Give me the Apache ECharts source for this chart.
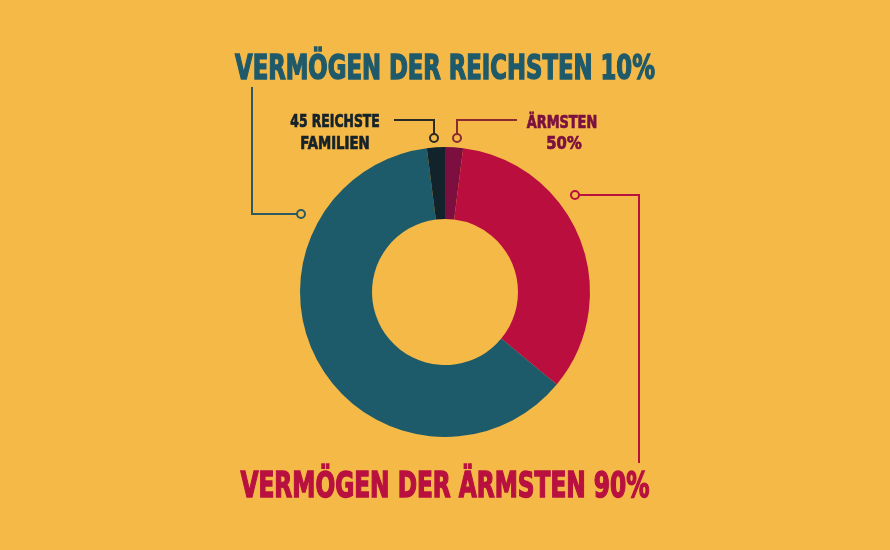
<!DOCTYPE html>
<html>
<head>
<meta charset="utf-8">
<script src="https://cdn.jsdelivr.net/npm/echarts@6/dist/echarts.min.js"></script>
<style>
html,body{margin:0;padding:0;background:#F5B947;}
#chart{width:890px;height:550px;}
</style>
</head>
<body>
<div id="chart"></div>
<script>
// Data (share of total wealth, %, clockwise from 12 o'clock)
const categories = ['Ärmsten 50%', 'Ärmsten 90% (Rest)', 'Reichsten 10% (Rest)', '45 reichste Familien'];
const values = [2, 34, 62, 2];
const colors = ['#7C0E40', '#BA0E3F', '#1E5B6A', '#13232B'];

const titleTop = 'VERMÖGEN DER REICHSTEN 10%';
const titleBottom = 'VERMÖGEN DER ÄRMSTEN 90%';
const labelFamilies = ['45 REICHSTE', 'FAMILIEN'];
const labelPoorest = ['ÄRMSTEN', '50%'];

const FONT_FAMILY = '"Liberation Sans Narrow", "DejaVu Sans Condensed", sans-serif';
const ctx = document.createElement('canvas').getContext('2d');
function fitText(text, cx, cy, size, targetW, fill, sw) {
  const font = 'bold ' + size + 'px ' + FONT_FAMILY;
  ctx.font = font;
  const w = ctx.measureText(text).width + sw;
  return {
    type: 'text', x: cx, y: cy, scaleX: targetW / w, silent: true,
    style: { text: text, x: 0, y: 0, font: font, fill: fill, stroke: fill, lineWidth: sw,
      align: 'center', verticalAlign: 'middle' }
  };
}
function line(points, color) {
  return { type: 'polyline', silent: true, shape: { points: points },
    style: { stroke: color, lineWidth: 2, fill: null } };
}
function dot(x, y, color) {
  return { type: 'circle', silent: true, shape: { cx: x, cy: y, r: 4 },
    style: { stroke: color, lineWidth: 2, fill: '#F5B947' }, z: 10 };
}

const chart = echarts.init(document.getElementById('chart'), null, { renderer: 'canvas' });
chart.setOption({
  backgroundColor: '#F5B947',
  animation: false,
  series: [{
    type: 'pie',
    center: [445, 292],
    radius: [73, 145],
    startAngle: 90,
    clockwise: true,
    silent: true,
    label: { show: false },
    labelLine: { show: false },
    itemStyle: { borderWidth: 0 },
    data: categories.map((c, i) => ({ name: c, value: values[i], itemStyle: { color: colors[i] } }))
  }],
  graphic: [
    fitText(titleTop, 445, 70, 34, 421, '#1F5A6B', 1.4),
    fitText(titleBottom, 445, 488, 36, 410, '#B8103F', 1.4),
    fitText(labelFamilies[0], 335, 122, 17.5, 90, '#15222A', 0.7),
    fitText(labelFamilies[1], 335, 144, 17.5, 70, '#15222A', 0.7),
    fitText(labelPoorest[0], 562, 123, 17.5, 71, '#7A1040', 0.7),
    fitText(labelPoorest[1], 564, 144, 17.5, 36, '#7A1040', 0.7),
    line([[252, 87], [252, 214], [297, 214]], '#2C5A60'),
    dot(301, 214, '#2C5A60'),
    line([[394, 120], [434, 120], [434, 134]], '#2B2A24'),
    dot(434, 138, '#2B2A24'),
    line([[517, 120], [457, 120], [457, 134]], '#8A2A32'),
    dot(457, 138, '#8A2A32'),
    line([[579, 195], [639, 195], [639, 463]], '#B8103F'),
    dot(575, 195, '#B8103F')
  ]
});
</script>
</body>
</html>
